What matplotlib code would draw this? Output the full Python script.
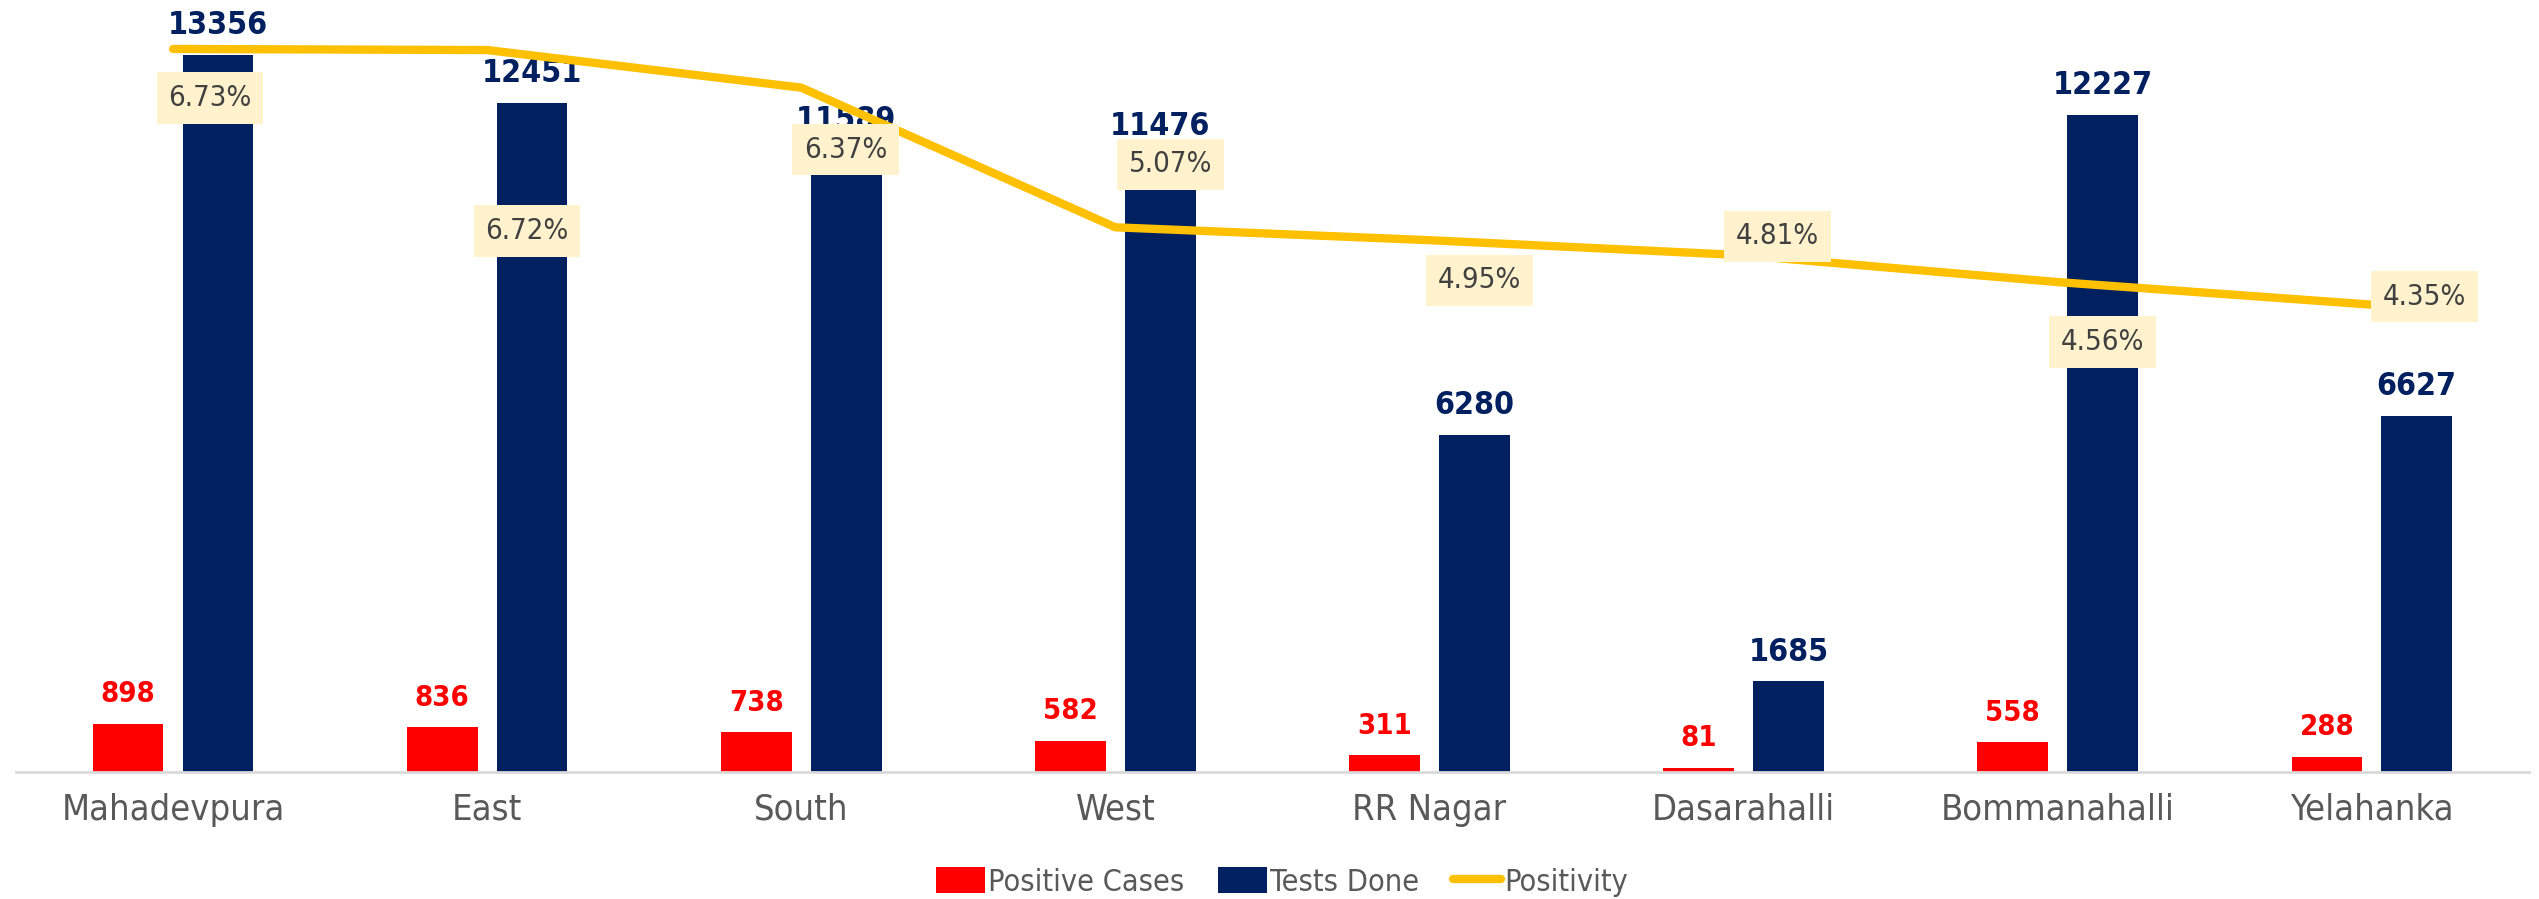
import matplotlib.pyplot as plt
import numpy as np
from matplotlib.lines import Line2D
from matplotlib.patches import Patch

plt.rcParams['font.family'] = ['DejaVu Sans']
plt.rcParams['font.stretch'] = 'condensed'

zones = ['Mahadevpura', 'East', 'South', 'West', 'RR Nagar', 'Dasarahalli',
         'Bommanahalli', 'Yelahanka']
positive = [898, 836, 738, 582, 311, 81, 558, 288]
tests = [13356, 12451, 11589, 11476, 6280, 1685, 12227, 6627]
positivity = [6.73, 6.72, 6.37, 5.07, 4.95, 4.81, 4.56, 4.35]

# manual label offsets (pixels) for positivity labels, like the moved Excel labels
pct_offsets = [(37, -49), (40, -181), (44, -62), (55, 63), (50, -40),
               (34, 19), (45, -60), (53, 8)]

red = '#FF0000'
navy = '#002060'
gold = '#FFC000'

fig = plt.figure(figsize=(25.39, 8.99), dpi=100)
ax = fig.add_axes([0.0063, 0.1413, 0.9897, 0.8365])
ax2 = ax.twinx()

x = np.arange(len(zones))
w = 0.225
off = 0.143

b1 = ax.bar(x - off, positive, w, color=red, zorder=2)
b2 = ax.bar(x + off, tests, w, color=navy, zorder=2)

ax.bar_label(b1, padding=11, color=red, fontsize=21, fontweight='bold')
ax.bar_label(b2, padding=10, color=navy, fontsize=23, fontweight='bold')

ax.set_ylim(0, 14000)
ax.set_xlim(-0.5, len(zones) - 0.5)
ax2.set_ylim(0, 7)

ax2.plot(x, positivity, color=gold, linewidth=6, solid_capstyle='round', zorder=3)

for xi, v, (dx, dy) in zip(x, positivity, pct_offsets):
    ax2.annotate(f'{v:.2f}%', xy=(xi, v), xytext=(dx, dy), textcoords='offset pixels',
                 ha='center', va='center', fontsize=21, color='#404040',
                 bbox=dict(boxstyle='square,pad=0.4', facecolor='#FFF2CC', edgecolor='none'))

for a in (ax, ax2):
    a.set_yticks([])
    for s in ('top', 'left', 'right'):
        a.spines[s].set_visible(False)
ax.spines['bottom'].set_color('#D9D9D9')
ax.spines['bottom'].set_linewidth(2)
ax2.spines['bottom'].set_visible(False)

ax.set_xticks(x)
ax.set_xticklabels(zones, fontsize=26, color='#595959')
ax.tick_params(axis='x', length=0, pad=15)

handles = [Patch(facecolor=red, label='Positive Cases'),
           Patch(facecolor=navy, label='Tests Done'),
           Line2D([0], [0], color=gold, linewidth=6, solid_capstyle='round', label='Positivity')]
leg = fig.legend(handles=handles, loc='center', bbox_to_anchor=(0.505, 0.019), ncol=3,
                 frameon=False, fontsize=22, handlelength=1.6, handleheight=0.9,
                 handletextpad=0.1, columnspacing=1.1)
for t in leg.get_texts():
    t.set_color('#595959')

fig.savefig('out.png', dpi=100)
